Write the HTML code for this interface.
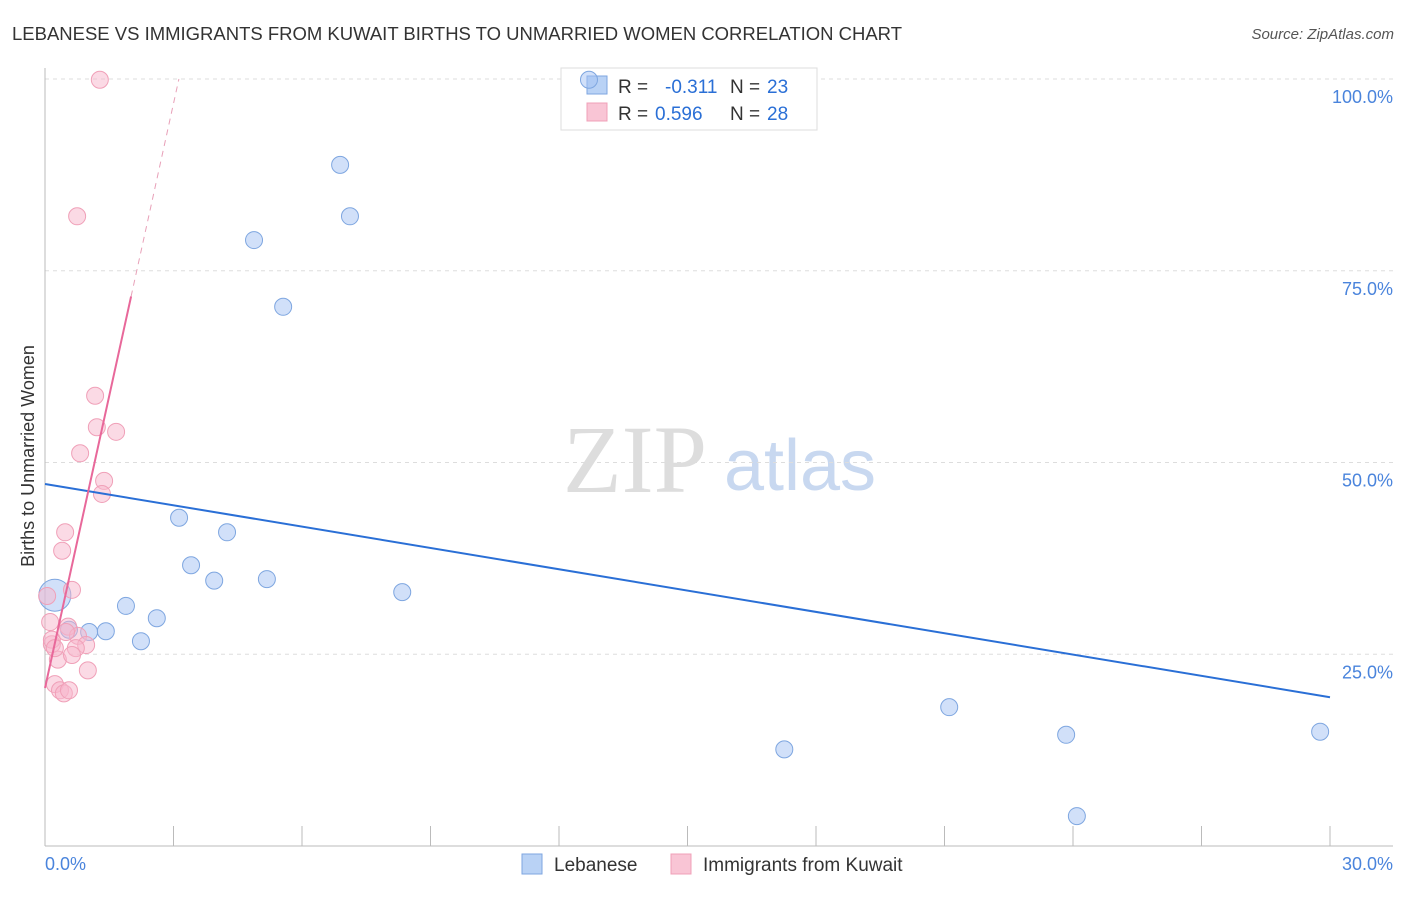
<!DOCTYPE html>
<html><head><meta charset="utf-8"><style>
body{margin:0;background:#fff;font-family:"Liberation Sans",sans-serif}
</style></head><body>
<svg width="1406" height="892" xmlns="http://www.w3.org/2000/svg" font-family="Liberation Sans, sans-serif">
<text x="12" y="40" font-size="18" fill="#333" textLength="890" lengthAdjust="spacingAndGlyphs">LEBANESE VS IMMIGRANTS FROM KUWAIT BIRTHS TO UNMARRIED WOMEN CORRELATION CHART</text>
<text x="1394" y="39" font-size="15" fill="#555" text-anchor="end" font-style="italic">Source: ZipAtlas.com</text>
<text x="635" y="492" font-size="96" fill="#ddd" text-anchor="middle" font-family="Liberation Serif, serif">ZIP</text>
<text x="800" y="490" font-size="72" fill="#c8d8f0" text-anchor="middle">atlas</text>
<g id="grid"></g>
<g id="axes"></g>
<g>
<rect x="561" y="68" width="256" height="62" fill="#fff" stroke="#ddd"/>
<rect x="587" y="76" width="20" height="18" fill="#b9d2f5" stroke="#7ea6e0"/>
<rect x="587" y="103" width="20" height="18" fill="#f9c5d5" stroke="#f0a0b8"/>
<text x="618" y="93" font-size="19" fill="#333">R = </text>
<text x="665" y="93" font-size="19" fill="#2a6fd6">-0.311</text>
<text x="730" y="93" font-size="19" fill="#333">N = </text>
<text x="767" y="93" font-size="19" fill="#2a6fd6">23</text>
<text x="618" y="120" font-size="19" fill="#333">R = </text>
<text x="655" y="120" font-size="19" fill="#2a6fd6">0.596</text>
<text x="730" y="120" font-size="19" fill="#333">N = </text>
<text x="767" y="120" font-size="19" fill="#2a6fd6">28</text>
</g>
<g id="marks"></g>
<text transform="translate(34,456) rotate(-90)" font-size="18" fill="#333" text-anchor="middle">Births to Unmarried Women</text>
<g>
<rect x="522" y="854" width="20" height="20" fill="#b9d2f5" stroke="#7ea6e0"/>
<text x="554" y="871" font-size="19" fill="#333">Lebanese</text>
<rect x="671" y="854" width="20" height="20" fill="#f9c5d5" stroke="#f0a0b8"/>
<text x="703" y="871" font-size="19" fill="#333">Immigrants from Kuwait</text>
</g>
</svg>
<script>
const yTicks=[25,50,75,100];
const yTickLabels=["25.0%","50.0%","75.0%","100.0%"];
const xTicks=[0,3,6,9,12,15,18,21,24,27,30];
const blueX=[0.23,0.56,1.03,1.42,1.89,2.24,2.61,3.13,3.41,3.95,4.25,4.88,5.18,5.56,6.89,7.12,8.34,12.70,17.26,21.11,23.84,24.09,29.77];
const blueY=[32.7,28.2,27.9,28.0,31.3,26.7,29.7,42.8,36.6,34.6,40.9,79.0,34.8,70.3,88.8,82.1,33.1,99.9,12.6,18.1,14.5,3.9,14.9];
const pinkX=[1.28,0.75,1.17,1.21,1.66,0.82,1.38,1.33,0.47,0.40,0.63,0.05,0.12,0.54,0.77,0.16,0.96,0.72,0.30,0.63,1.00,0.23,0.35,0.44,0.56,0.16,0.23,0.49];
const pinkY=[99.9,82.1,58.7,54.6,54.0,51.2,47.6,45.9,40.9,38.5,33.4,32.6,29.2,28.6,27.4,26.3,26.2,25.8,24.3,24.9,22.9,21.1,20.3,19.9,20.3,26.9,25.8,27.9];
const blueTrend=[47.2,19.4];
const pinkTrend=[20.6,25.4];
const NS="http://www.w3.org/2000/svg";
const sx=v=>45+v*1285/30, sy=v=>846-v*7.67;
function mk(p,t,a){const e=document.createElementNS(NS,t);for(const k in a)e.setAttribute(k,a[k]);document.getElementById(p).appendChild(e);return e;}
yTicks.forEach((t,i)=>{
 const l=mk('grid','line',{x1:45,x2:1393,y1:sy(t),y2:sy(t),stroke:'#ddd','stroke-dasharray':'4,4'});
 
 
 const tx=mk('grid','text',{x:1393,y:sy(t)+24,'font-size':18,fill:'#4a84dc','text-anchor':'end'});
 tx.textContent=yTickLabels[i];
 
 
});
const ax=mk('axes','line',{x1:45,x2:1393,y1:846,y2:846,stroke:'#bbb'});


const ay=mk('axes','line',{x1:45,x2:45,y1:68,y2:846,stroke:'#bbb'});


xTicks.forEach(t=>{const l=mk('axes','line',{x1:sx(t),x2:sx(t),y1:826,y2:846,stroke:'#bbb'});
 
 });
let t0=mk('axes','text',{x:45,y:870,'font-size':18,fill:'#4a84dc'});t0.textContent='0.0%';


let t1=mk('axes','text',{x:1393,y:870,'font-size':18,fill:'#4a84dc','text-anchor':'end'});t1.textContent='30.0%';


blueX.forEach((x,i)=>{const c=mk('marks','circle',{cx:sx(x),cy:sy(blueY[i]),r:i==0?16:8.5,fill:'rgba(164,194,244,0.5)',stroke:'#7ea6e0'});
 
 });
pinkX.forEach((x,i)=>{const c=mk('marks','circle',{cx:sx(x),cy:sy(pinkY[i]),r:8.5,fill:'rgba(248,182,204,0.5)',stroke:'#f0a0b8'});
 
 });
const bl=mk('marks','line',{x1:sx(0),y1:sy(blueTrend[0]),x2:sx(30),y2:sy(blueTrend[1]),stroke:'#2a6fd6','stroke-width':2});


const xs=2.01,xe=(100-pinkTrend[0])/pinkTrend[1];
const pl=mk('marks','line',{x1:sx(0),y1:sy(pinkTrend[0]),x2:sx(xs),y2:sy(pinkTrend[0]+pinkTrend[1]*xs),stroke:'#e8689a','stroke-width':2});


const pd=mk('marks','line',{x1:sx(xs),y1:sy(pinkTrend[0]+pinkTrend[1]*xs),x2:sx(xe),y2:sy(100),stroke:'#e8a0b8','stroke-width':1,'stroke-dasharray':'6,5'});


</script>
</body></html>
